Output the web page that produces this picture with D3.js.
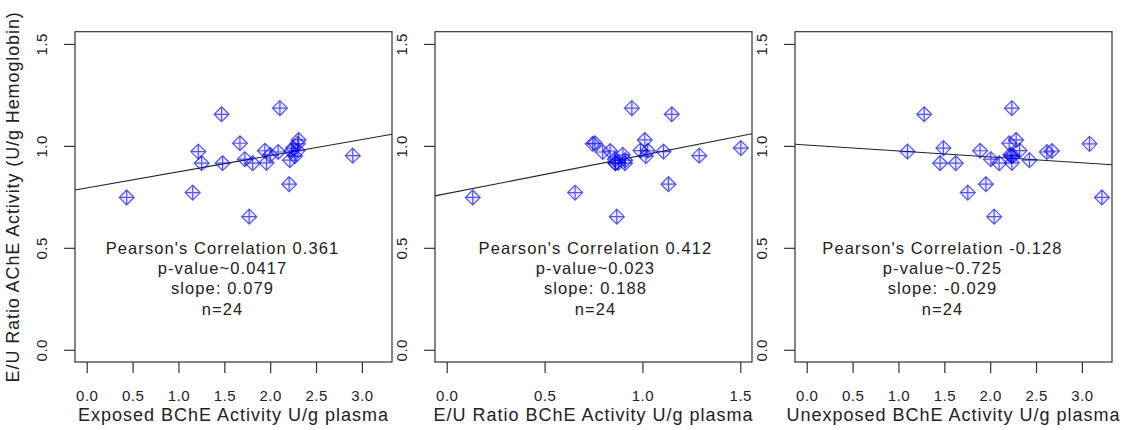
<!DOCTYPE html>
<html>
<head>
<meta charset="utf-8">
<script src="https://cdn.jsdelivr.net/npm/d3@7"></script>
<style>
  body { margin: 0; background: #fff; }
  text { font-family: "Liberation Sans", Arial, sans-serif; fill: #222; }
</style>
</head>
<body>
<svg width="1127" height="430"></svg>
<script>
// E/U ratio of AChE activity (shared y values)
const acheRatio = [0.747, 0.771, 1.155, 1.185, 0.653, 0.812, 1.013, 1.010, 0.972, 0.989, 0.952, 0.915,
                   0.915, 0.915, 0.930, 0.917, 0.935, 0.956, 0.976, 0.970, 0.975, 0.977, 1.029, 0.950];
// exposed BChE activity
const exposedBche = [0.436, 1.155, 1.47, 2.106, 1.771, 2.207, 1.67, 2.30, 1.216, 2.25, 2.90, 1.253,
                     1.481, 1.808, 2.215, 1.96, 1.724, 2.0, 1.942, 2.087, 2.233, 2.30, 2.31, 2.27];
// E/U ratio BChE activity
const ratioBche = [0.133, 0.656, 1.150, 0.946, 0.869, 1.133, 0.757, 0.746, 1.108, 1.503, 1.29, 0.862,
                   0.911, 0.862, 0.912, 0.877, 0.859, 0.90, 1.027, 0.797, 0.835, 0.99, 1.012, 1.018];
// unexposed BChE activity
const unexposedBche = [3.218, 1.756, 1.28, 2.236, 2.043, 1.953, 2.207, 3.083, 1.098, 1.49, 2.248, 1.454,
                       1.625, 2.098, 2.428, 2.236, 2.007, 2.22, 1.89, 2.618, 2.673, 2.32, 2.283, 2.23];

const xTitles = ["Exposed BChE Activity U/g plasma", "E/U Ratio BChE Activity U/g plasma", "Unexposed BChE Activity U/g plasma"];
const xTicks = [[0, 0.5, 1, 1.5, 2, 2.5, 3], [0, 0.5, 1, 1.5], [0, 0.5, 1, 1.5, 2, 2.5, 3]];
const xLimits = [[0, 3.2], [0, 1.5], [0, 3.2]];
const yTicks = [0, 0.5, 1, 1.5];
const intercepts = [0.794, 0.766, 1.004];
const slopes = [0.079, 0.188, -0.029];
const correlations = ["0.361", "0.412", "-0.128"];
const pValues = ["0.0417", "0.023", "0.725"];
const slopeText = ["0.079", "0.188", "-0.029"];
const textX = [1.48, 0.76, 1.48];

const svg = d3.select("svg");
const panelLeft = [75, 435, 795],
      panelWidth = 317,
      plotTop = 31.7,
      plotBottom = 362;

// R style 4% padding
const pad = ([a, b]) => [a - (b - a) * 0.04, b + (b - a) * 0.04];

const y = d3.scaleLinear().domain(pad([0, 1.5])).range([plotBottom, plotTop]);

const xs = [exposedBche, ratioBche, unexposedBche];

const diamond = "M0,-7.5L7.5,0L0,7.5L-7.5,0Z M0,-7.5L0,7.5 M-7.5,0L7.5,0";

xs.forEach((xv, p) => {
  const left = panelLeft[p];
  const x = d3.scaleLinear().domain(pad(xLimits[p])).range([left, left + panelWidth]);
  const g = svg.append("g");

  // box
  g.append("rect")
    .attr("x", left).attr("y", plotTop)
    .attr("width", panelWidth).attr("height", plotBottom - plotTop)
    .attr("fill", "none").attr("stroke", "#333").attr("stroke-width", 1.2);

  // x axis
  const xAxis = g.append("g").attr("transform", `translate(0,${plotBottom})`)
    .call(d3.axisBottom(x).tickValues(xTicks[p]).tickFormat(d3.format(".1f")).tickSize(11).tickPadding(17));
  xAxis.select(".domain").remove();
  xAxis.selectAll("line").attr("stroke", "#333").attr("stroke-width", 1.2);
  xAxis.selectAll("text").style("font-size", "15px").style("letter-spacing", "0.5px").attr("fill", "#222")
    .style("font-family", "'Liberation Sans', Arial, sans-serif");

  // y axis
  const yAxis = g.append("g").attr("transform", `translate(${left},0)`)
    .call(d3.axisLeft(y).tickValues(yTicks).tickFormat(d3.format(".1f")).tickSize(11));
  yAxis.select(".domain").remove();
  yAxis.selectAll("line").attr("stroke", "#333").attr("stroke-width", 1.2);
  yAxis.selectAll("text")
    .attr("x", null).attr("dy", null)
    .attr("transform", "translate(-33,0) rotate(-90)")
    .attr("text-anchor", "middle")
    .attr("dy", "0.35em")
    .attr("fill", "#222")
    .style("font-size", "15px")
    .style("letter-spacing", "0.5px")
    .style("font-family", "'Liberation Sans', Arial, sans-serif");

  // regression line
  const x0 = x.domain()[0], x1 = x.domain()[1];
  g.append("line")
    .attr("x1", x(x0)).attr("y1", y(intercepts[p] + slopes[p] * x0))
    .attr("x2", x(x1)).attr("y2", y(intercepts[p] + slopes[p] * x1))
    .attr("stroke", "#222").attr("stroke-width", 1.1);

  // points
  g.selectAll(".pt")
    .data(xv.map((d, i) => [d, acheRatio[i]]))
    .enter()
    .append("path")
    .attr("class", "pt")
    .attr("d", diamond)
    .attr("transform", d => `translate(${x(d[0])},${y(d[1])})`)
    .attr("fill", "rgba(0,0,255,0.08)")
    .attr("stroke", "#0000ff")
    .attr("stroke-opacity", 0.65)
    .attr("stroke-width", 1.2);

  // annotation
  const lines = [
    `Pearson's Correlation ${correlations[p]}`,
    `p-value~${pValues[p]}`,
    `slope: ${slopeText[p]}`,
    "n=24"
  ];
  g.selectAll(".ann")
    .data(lines)
    .enter()
    .append("text")
    .attr("class", "ann")
    .attr("x", x(textX[p]))
    .attr("y", (d, i) => y(0.5 - i * 0.1))
    .attr("dy", "0.35em")
    .attr("text-anchor", "middle")
    .style("font-size", "16.5px")
    .style("letter-spacing", "1.1px")
    .text(d => d);

  // x title
  g.append("text")
    .attr("x", left + panelWidth / 2)
    .attr("y", 421)
    .attr("text-anchor", "middle")
    .style("font-size", "18px")
    .style("letter-spacing", "1px")
    .text(xTitles[p]);
});

// y title
svg.append("text")
  .attr("transform", `translate(19,${(plotTop + plotBottom) / 2}) rotate(-90)`)
  .attr("text-anchor", "middle")
  .style("font-size", "18px")
  .style("letter-spacing", "0.9px")
  .text("E/U Ratio AChE Activity (U/g Hemoglobin)");
</script>
</body>
</html>
